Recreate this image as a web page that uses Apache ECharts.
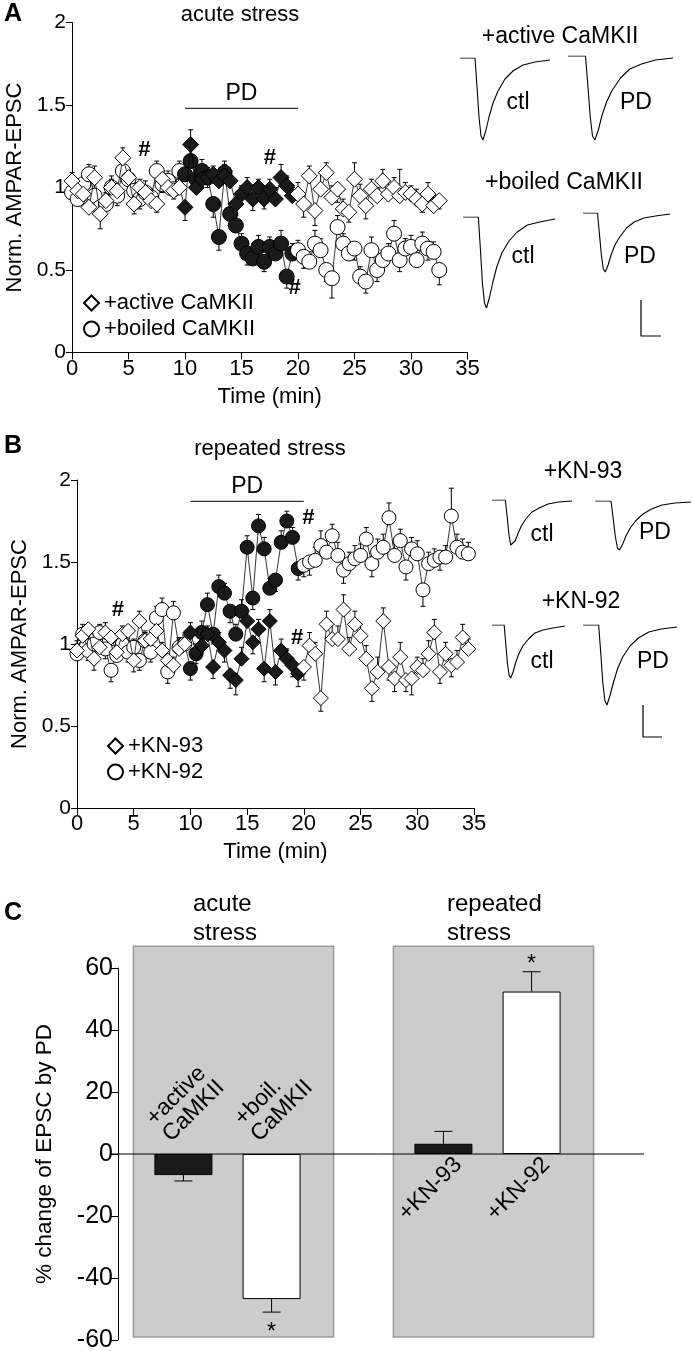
<!DOCTYPE html>
<html><head><meta charset="utf-8">
<script src="https://cdn.jsdelivr.net/npm/echarts@6/dist/echarts.min.js"></script>
<style>html,body{margin:0;padding:0;background:#fff}#c{width:693px;height:1351px}</style>
</head><body><div id="c"></div>
<script>
const FONT = '"Liberation Sans", Arial, Helvetica, sans-serif';

// ---------- Panel A data (acute stress) ----------
const timeA = [0,0.5,1,1.5,2,2.5,3,3.5,4,4.5,5,5.5,6,6.5,7,7.5,8,8.5,9,9.5,10,10.5,11,11.5,12,12.5,13,13.5,14,14.5,15,15.5,16,16.5,17,17.5,18,18.5,19,19.5,20,20.5,21,21.5,22,22.5,23,23.5,24,24.5,25,25.5,26,26.5,27,27.5,28,28.5,29,29.5,30,30.5,31,31.5,32,32.5];
const activeA = [1.04,0.98,0.96,0.88,1.06,0.84,0.92,1.00,0.98,1.18, 1.06,0.90,1.00,0.97,0.92,0.90,1.05,1.00,0.98,1.00, 0.88,1.26,1.00,1.05,1.06,1.08,1.04,1.07,1.04,0.90, 0.96,1.00,0.93,1.00,0.93,0.99,0.93,1.06,1.01,0.95, 0.96,0.90,1.07,0.86,0.99,1.09,0.94,0.99,0.87,0.85, 1.05,0.95,0.89,0.99,0.95,1.04,0.96,1.00,0.95,0.97, 0.96,0.93,0.90,0.96,0.89,0.92];
const activeErrA = [0.05,-0.04,0.06,0.05,0.07,-0.09,0.05,0.07,-0.05,0.06, 0.05,-0.06,0.05,-0.05,0.06,-0.05,0.05,0.06,-0.05,0.05, -0.08,0.09,0.06,0.05,-0.06,0.05,0.06,0.07,0.06,-0.06, 0.05,0.06,-0.07,0.05,-0.06,0.06,0.07,0.08,0.06,0.05, 0.07,-0.08,0.06,-0.09,0.10,0.06,0.07,-0.08,0.06,-0.06, 0.10,0.07,-0.08,0.06,0.05,0.07,0.08,0.06,0.16,0.06, 0.05,0.06,-0.05,0.07,0.06,-0.05];
const boiledA = [0.97,0.93,1.02,1.08,0.95,0.88,0.90,1.00,0.95,1.10, 1.05,0.98,0.93,0.97,0.94,1.10,1.02,1.04,0.99,1.10, 1.08,1.16,1.05,1.10,1.06,0.90,0.70,1.09,0.84,0.77, 0.66,0.60,0.57,0.64,0.55,0.64,0.60,0.66,0.46,0.60, 0.62,0.58,0.55,0.66,0.62,0.50,0.45,0.76,0.66,0.60, 0.63,0.46,0.43,0.62,0.50,0.56,0.60,0.72,0.56,0.63, 0.64,0.56,0.66,0.63,0.61,0.50];
const boiledErrA = [0.05,0.06,-0.05,0.06,0.08,-0.07,0.06,0.05,-0.06,0.05, 0.06,0.05,-0.06,0.07,0.05,0.06,-0.05,0.06,0.05,0.06, 0.07,0.08,0.06,0.07,0.06,-0.08,-0.08,0.07,-0.07,0.06, 0.06,-0.07,0.06,0.07,-0.06,0.06,0.07,0.08,-0.07,0.06, 0.06,-0.07,0.06,0.08,0.07,-0.07,-0.12,0.07,0.06,0.07, -0.07,0.06,-0.07,0.08,-0.07,0.06,0.06,0.08,-0.07,0.06, 0.07,0.06,0.07,-0.07,0.06,-0.09];
const hashA = [[6.4,1.23],[17.5,1.18],[19.7,0.39]];

// ---------- Panel B data (repeated stress) ----------
const timeB = [0,0.5,1,1.5,2,2.5,3,3.5,4,4.5,5,5.5,6,6.5,7,7.5,8,8.5,9,9.5,10,10.5,11,11.5,12,12.5,13,13.5,14,14.5,15,15.5,16,16.5,17,17.5,18,18.5,19,19.5,20,20.5,21,21.5,22,22.5,23,23.5,24,24.5,25,25.5,26,26.5,27,27.5,28,28.5,29,29.5,30,30.5,31,31.5,32,32.5,33,33.5,34,34.5];
const kn93B = [0.96,1.05,1.09,0.91,0.98,1.07,1.04,0.95,1.06,1.08, 0.90,1.14,1.02,1.03,1.08,0.96,0.90,0.87,0.97,1.00, 1.07,0.95,0.99,1.06,0.86,1.01,0.96,0.81,0.78,0.91, 1.14,1.01,1.09,0.85,1.14,0.83,0.96,0.91,0.87,0.82, 0.86,0.99,0.94,0.67,1.12,1.03,1.03,1.21,0.97,1.12, 1.05,0.91,0.73,0.83,1.14,0.86,0.79,0.92,0.78,0.79, 0.86,0.84,0.94,1.07,0.83,0.94,0.87,0.89,1.04,0.97];
const kn93ErrB = [0.06,0.05,-0.06,-0.07,0.05,0.06,-0.05,0.06,0.05,-0.06, -0.07,0.06,0.05,-0.05,0.06,0.05,-0.06,0.05,0.06,0.05, 0.06,-0.07,0.06,0.05,-0.07,0.06,-0.07,-0.08,-0.09,0.07, 0.06,-0.07,0.06,-0.08,0.07,-0.08,0.07,0.06,-0.07,-0.08, -0.08,0.08,0.07,-0.08,0.08,0.09,0.08,0.09,0.07,0.08, 0.07,0.08,-0.08,0.09,0.08,-0.08,-0.08,0.09,-0.07,-0.10, 0.06,0.07,0.08,0.08,-0.07,0.07,-0.07,0.07,0.08,0.06];
const kn92B = [0.94,1.06,0.96,1.00,1.07,0.97,0.84,0.93,1.00,0.95, 0.98,0.90,1.02,0.95,1.16,1.21,0.83,1.19,0.98,1.00, 0.85,0.94,1.07,1.24,1.06,1.35,1.31,1.20,1.06,1.20, 1.59,1.28,1.72,1.58,1.34,1.39,1.62,1.75,1.65,1.46, 1.48,1.50,1.51,1.60,1.56,1.66,1.54,1.45,1.49,1.52, 1.54,1.64,1.49,1.56,1.59,1.77,1.54,1.63,1.47,1.58, 1.55,1.33,1.49,1.51,1.53,1.53,1.78,1.59,1.56,1.55];
const kn92ErrB = [0.06,0.06,-0.06,0.06,0.05,-0.06,-0.07,0.06,0.05,-0.06, 0.05,-0.06,0.06,-0.06,0.07,0.07,-0.07,0.07,0.06,0.06, -0.07,0.06,0.07,0.07,-0.06,0.07,0.06,-0.07,0.06,0.07, 0.07,-0.07,0.07,0.07,0.06,-0.07,0.07,0.06,0.06,-0.07, -0.07,-0.08,0.08,0.09,0.07,0.07,0.08,-0.08,0.07,0.08, 0.07,0.07,-0.08,0.08,0.08,0.09,0.07,0.07,-0.08,0.07, 0.08,-0.10,0.07,0.07,-0.08,0.07,0.17,0.08,0.08,0.07];
const hashB = [[3.6,1.21],[20.4,1.77],[19.4,1.04]];

const pdPeriod = [10, 20];
const timeTicks = [0, 35, 5];

// ---------- Panel C data ----------
const cGroups = ['acute stress', 'repeated stress'];
const cFilledNames = ['+active\nCaMKII', '+KN-93'];
const cOpenNames = ['+boil.\nCaMKII', '+KN-92'];
const cFilled = [-6.8, 3.3];
const cFilledErr = [1.9, 4.0];
const cOpen = [-46.8, 52.4];
const cOpenErr = [4.2, 6.4];
const cOpenSig = ['*', '*'];

// ---------- EPSC traces (ms, relative current) ----------
const traceT = [0, 15, 17, 19, 21, 23, 26, 29, 33, 38, 45, 53, 63, 75, 90];
const trActCtl  = [0,0,-29,-59,-78,-82,-72,-59,-45,-33,-21,-13,-7,-4,-2];
const trActPD   = [0,0,-29,-60,-80,-84,-74,-60,-46,-34,-22,-13,-8,-4,-2];
const trBoilCtl = [0,0,-32,-66,-86,-91,-80,-66,-50,-36,-24,-15,-8,-5,-2];
const trBoilPD  = [0,0,-21,-42,-56,-59,-52,-42,-32,-24,-15,-9,-5,-3,-1];
const trKn93Ctl = [0,0,-16,-34,-45,-47,-41,-34,-26,-19,-12,-8,-4,-2,-1];
const trKn93PD  = [0,0,-17,-35,-47,-49,-43,-35,-27,-20,-13,-8,-4,-2,-1];
const trKn92Ctl = [0,0,-19,-38,-50,-53,-47,-38,-29,-21,-14,-8,-5,-3,-1];
const trKn92PD  = [0,0,-28,-58,-76,-80,-70,-58,-44,-32,-21,-13,-7,-4,-2];

// ---------- build ----------
const chart = echarts.init(document.getElementById('c'), null, {renderer: 'canvas'});
const BLACK = '#000', FILL = '#1a1a1a';
const axisLine = {show: true, lineStyle: {color: BLACK, width: 1}};

function timeSeries(name, symbol, size, times, vals, gi, z) {
  return {
    name, type: 'line', xAxisIndex: gi, yAxisIndex: gi, symbol, symbolSize: size, z,
    showAllSymbol: true, silent: true,
    lineStyle: {color: BLACK, width: 0.8},
    itemStyle: {color: '#fff', borderColor: BLACK, borderWidth: 1},
    data: times.map((t, i) => ({
      value: [t, vals[i]],
      itemStyle: (t >= pdPeriod[0] && t < pdPeriod[1]) ? {color: FILL, borderColor: BLACK} : undefined
    }))
  };
}
function errSeries(times, vals, errs, gi, cap) {
  return {
    type: 'custom', xAxisIndex: gi, yAxisIndex: gi, z: 1, silent: true,
    data: times.map((t, i) => [t, vals[i], vals[i] + errs[i]]),
    encode: {x: 0, y: [1, 2]},
    renderItem(params, api) {
      const p0 = api.coord([api.value(0), api.value(1)]);
      const p1 = api.coord([api.value(0), api.value(2)]);
      return {type: 'group', children: [
        {type: 'line', shape: {x1: p0[0], y1: p0[1], x2: p1[0], y2: p1[1]}, style: {stroke: BLACK, lineWidth: 1}},
        {type: 'line', shape: {x1: p1[0] - cap, y1: p1[1], x2: p1[0] + cap, y2: p1[1]}, style: {stroke: BLACK, lineWidth: 1}}
      ]};
    }
  };
}
const plainLabel = {color: BLACK, fontFamily: FONT, textBorderWidth: 0, textShadowBlur: 0, opacity: 1};
function hashSeries(pts, gi) {
  return {type: 'scatter', xAxisIndex: gi, yAxisIndex: gi, symbolSize: 0, z: 6, silent: true,
    itemStyle: {color: BLACK},
    data: pts, label: Object.assign({show: true, position: 'inside', formatter: '#', fontSize: 22, fontWeight: 'bold'}, plainLabel)};
}
function pdSeries(level, gi) {
  return [
    {type: 'line', xAxisIndex: gi, yAxisIndex: gi, symbol: 'none', silent: true, z: 5,
     lineStyle: {color: BLACK, width: 1}, data: [[pdPeriod[0], level], [pdPeriod[1], level]]},
    {type: 'scatter', xAxisIndex: gi, yAxisIndex: gi, symbolSize: 0, silent: true, z: 5,
     itemStyle: {color: BLACK},
     data: [[(pdPeriod[0] + pdPeriod[1]) / 2, level]],
     label: Object.assign({show: true, position: 'top', distance: 3, formatter: 'PD', fontSize: 23}, plainLabel)}
  ];
}
function timeXAxis(gi) {
  return {type: 'value', gridIndex: gi, min: timeTicks[0], max: timeTicks[1], interval: timeTicks[2],
    axisLine, axisTick: {show: true, length: 7, lineStyle: {color: BLACK}},
    splitLine: {show: false},
    axisLabel: {color: BLACK, fontSize: 22, fontFamily: FONT, margin: 5},
    name: 'Time (min)', nameLocation: 'middle', nameGap: 33,
    nameTextStyle: {color: BLACK, fontSize: 22, fontFamily: FONT}};
}
function normYAxis(gi) {
  return {type: 'value', gridIndex: gi, min: 0, max: 2, interval: 0.5,
    axisLine, axisTick: {show: true, length: 6, lineStyle: {color: BLACK}},
    splitLine: {show: false},
    axisLabel: {color: BLACK, fontSize: 21, fontFamily: FONT, margin: 6},
    name: 'Norm. AMPAR-EPSC', nameLocation: 'middle', nameGap: 43,
    nameTextStyle: {color: BLACK, fontSize: 22, fontFamily: FONT}};
}

const traceGrids = [
  {left: 460, top: 58, width: 90, d: trActCtl},
  {left: 568, top: 56, width: 105, d: trActPD},
  {left: 463, top: 217, width: 92, d: trBoilCtl},
  {left: 583, top: 213, width: 87, d: trBoilPD},
  {left: 492, top: 500, width: 80, d: trKn93Ctl},
  {left: 595, top: 501, width: 96, d: trKn93PD},
  {left: 492, top: 625, width: 73, d: trKn92Ctl},
  {left: 583, top: 625, width: 94, d: trKn92PD}
];

const grids = [
  {left: 72, top: 22.5, width: 395.5, height: 330, outerBoundsMode: 'none', containLabel: false},
  {left: 77, top: 480, width: 397, height: 328, outerBoundsMode: 'none', containLabel: false},
  {left: 97.5, top: 968, width: 520, height: 372, outerBoundsMode: 'none', containLabel: false}
];
const xAxes = [timeXAxis(0), timeXAxis(1),
  {type: 'category', gridIndex: 2, data: cGroups, show: false}];
const yAxes = [normYAxis(0), normYAxis(1),
  {type: 'value', gridIndex: 2, min: -60, max: 60, interval: 20, offset: -20.5,
   axisLine, axisTick: {show: true, length: 8, lineStyle: {color: BLACK}}, splitLine: {show: false},
   axisLabel: {color: BLACK, fontSize: 25, fontFamily: FONT, margin: 5},
   name: '% change of EPSC by PD', nameLocation: 'middle', nameGap: 62,
   nameTextStyle: {color: BLACK, fontSize: 22.5, fontFamily: FONT}}];
const series = [];
traceGrids.forEach((tg, k) => {
  const gi = 3 + k;
  grids.push({left: tg.left, top: tg.top, width: tg.width, height: 100, outerBoundsMode: 'none', containLabel: false});
  xAxes.push({type: 'value', gridIndex: gi, min: 0, max: 90, show: false});
  yAxes.push({type: 'value', gridIndex: gi, min: -100, max: 0, show: false});
  series.push({type: 'line', xAxisIndex: gi, yAxisIndex: gi, symbol: 'none', silent: true,
    lineStyle: {color: BLACK, width: 1.1}, data: traceT.map((t, i) => [t, tg.d[i]])});
});

// Panel A
series.push(errSeries(timeA, boiledA, boiledErrA, 0, 2.5));
series.push(errSeries(timeA, activeA, activeErrA, 0, 2.5));
series.push(timeSeries('+boiled CaMKII', 'circle', 15, timeA, boiledA, 0, 2));
series.push(timeSeries('+active CaMKII', 'diamond', 16, timeA, activeA, 0, 3));
series.push(hashSeries(hashA, 0));
series.push(...pdSeries(1.48, 0));
// Panel B
series.push(errSeries(timeB, kn92B, kn92ErrB, 1, 2.5));
series.push(errSeries(timeB, kn93B, kn93ErrB, 1, 2.5));
series.push(timeSeries('+KN-92', 'circle', 14, timeB, kn92B, 1, 2));
series.push(timeSeries('+KN-93', 'diamond', 15, timeB, kn93B, 1, 3));
series.push(hashSeries(hashB, 1));
series.push(...pdSeries(1.87, 1));
// Panel C
const BARW = 58, BARGAP = 0.52;
const dxBar = (BARW + BARW * BARGAP) / 2;
series.push({type: 'bar', name: 'filled', xAxisIndex: 2, yAxisIndex: 2, data: cFilled, barWidth: BARW, barGap: (BARGAP * 100) + '%',
  itemStyle: {color: FILL, borderColor: BLACK, borderWidth: 1}, z: 3, silent: true});
series.push({type: 'bar', name: 'open', xAxisIndex: 2, yAxisIndex: 2, data: cOpen, barWidth: BARW,
  itemStyle: {color: '#fff', borderColor: BLACK, borderWidth: 1}, z: 3, silent: true});
function barErr(vals, errs, dx) {
  return {type: 'custom', xAxisIndex: 2, yAxisIndex: 2, z: 2, silent: true,
    data: vals.map((v, i) => [i, v, v + Math.sign(v) * errs[i]]),
    encode: {x: 0, y: [1, 2]},
    renderItem(params, api) {
      const p0 = api.coord([api.value(0), api.value(1)]);
      const p1 = api.coord([api.value(0), api.value(2)]);
      const x = p0[0] + dx;
      return {type: 'group', children: [
        {type: 'line', shape: {x1: x, y1: p0[1], x2: x, y2: p1[1]}, style: {stroke: BLACK, lineWidth: 1}},
        {type: 'line', shape: {x1: x - 9, y1: p1[1], x2: x + 9, y2: p1[1]}, style: {stroke: BLACK, lineWidth: 1}}
      ]};
    }};
}
series.push(barErr(cFilled, cFilledErr, -dxBar));
series.push(barErr(cOpen, cOpenErr, dxBar));

const legendCommon = {orient: 'vertical', itemWidth: 15, itemHeight: 15, itemGap: 4, selectedMode: false,
  textStyle: {color: BLACK, fontSize: 22, fontFamily: FONT}};
chart.setOption({
  animation: false,
  textStyle: {fontFamily: FONT},
  grid: grids, xAxis: xAxes, yAxis: yAxes, series,
  legend: [
    Object.assign({left: 78, top: 287, data: [{name: '+active CaMKII', icon: 'diamond'}, {name: '+boiled CaMKII', icon: 'circle'}]}, legendCommon),
    Object.assign({left: 102, top: 730, data: [{name: '+KN-93', icon: 'diamond'}, {name: '+KN-92', icon: 'circle'}]}, legendCommon)
  ]
});

// ---------- annotations ----------
const g = [];
function txt(text, x, y, size, opts) {
  g.push(Object.assign({type: 'text', x, y, z: 20, style: {text, fill: BLACK, font: (opts && opts.bold ? 'bold ' : '') + size + 'px ' + FONT,
    align: (opts && opts.align) || 'center', verticalAlign: 'middle', lineHeight: opts && opts.lh}}, opts && opts.rot ? {rotation: opts.rot} : {}));
}
txt('A', 13, 14, 25, {bold: true});
txt('acute stress', 240, 15, 22);
txt('+active CaMKII', 560, 37, 23);
txt('ctl', 518, 103, 23); txt('PD', 636, 103, 23);
txt('+boiled CaMKII', 564, 183, 23);
txt('ctl', 523, 257, 23); txt('PD', 640, 257, 23);
txt('B', 13, 446, 25, {bold: true});
txt('repeated stress', 270, 449, 22);
txt('+KN-93', 583, 472, 23);
txt('ctl', 542, 535, 23); txt('PD', 655, 533, 23);
txt('+KN-92', 581, 602, 23);
txt('ctl', 542, 662, 23); txt('PD', 653, 662, 23);
txt('C', 13, 913, 25, {bold: true});
txt('acute\nstress', 193, 919, 24, {align: 'left', lh: 29});
txt('repeated\nstress', 447, 919, 24, {align: 'left', lh: 29});
// scale bars
g.push({type: 'polyline', z: 20, shape: {points: [[641, 300], [641, 336], [661, 336]]}, style: {stroke: BLACK, lineWidth: 1.2, fill: null}});
g.push({type: 'polyline', z: 20, shape: {points: [[643, 705], [643, 737], [662, 737]]}, style: {stroke: BLACK, lineWidth: 1.2, fill: null}});

const cBoxRange = [-59, 67];
const cv = (k, v) => chart.convertToPixel({xAxisIndex: 2, yAxisIndex: 2}, [k, v]);
cGroups.forEach((name, k) => {
  const c0 = cv(k, 0);
  const top = cv(k, cBoxRange[1])[1], bot = cv(k, cBoxRange[0])[1];
  const left = c0[0] - dxBar - BARW / 2 - 21, right = c0[0] + dxBar + BARW / 2 + 33;
  g.push({type: 'rect', z: -1, shape: {x: left, y: top, width: right - left, height: bot - top},
    style: {fill: '#cccccc', stroke: '#9a9a9a', lineWidth: 1.5}});
  const yz = c0[1];
  [[cFilledNames[k], cFilled[k], -dxBar], [cOpenNames[k], cOpen[k], dxBar]].forEach(([lab, v, dx]) => {
    const bx = c0[0] + dx;
    if (v < 0) {
      g.push({type: 'text', x: bx - 25, y: yz - 24, rotation: Math.PI / 4, z: 20,
        style: {text: lab, fill: BLACK, font: '23px ' + FONT, align: 'left', verticalAlign: 'middle', lineHeight: 23}});
    } else {
      g.push({type: 'text', x: bx - 13, y: yz + 35, rotation: Math.PI / 4, z: 20,
        style: {text: lab, fill: BLACK, font: '23px ' + FONT, align: 'center', verticalAlign: 'middle'}});
    }
  });
  if (cOpenSig[k]) {
    const v = cOpen[k], e = v + Math.sign(v) * cOpenErr[k];
    const pe = cv(k, e);
    g.push({type: 'text', x: pe[0] + dxBar, y: pe[1] + (v < 0 ? 21 : -7), z: 20,
      style: {text: cOpenSig[k], fill: BLACK, font: '23px ' + FONT, align: 'center', verticalAlign: 'middle'}});
  }
});
const y0 = cv(0, 0)[1];
g.push({type: 'line', z: 10, shape: {x1: 111, y1: y0, x2: 644, y2: y0}, style: {stroke: BLACK, lineWidth: 1}});
chart.setOption({graphic: g});
</script></body></html>
